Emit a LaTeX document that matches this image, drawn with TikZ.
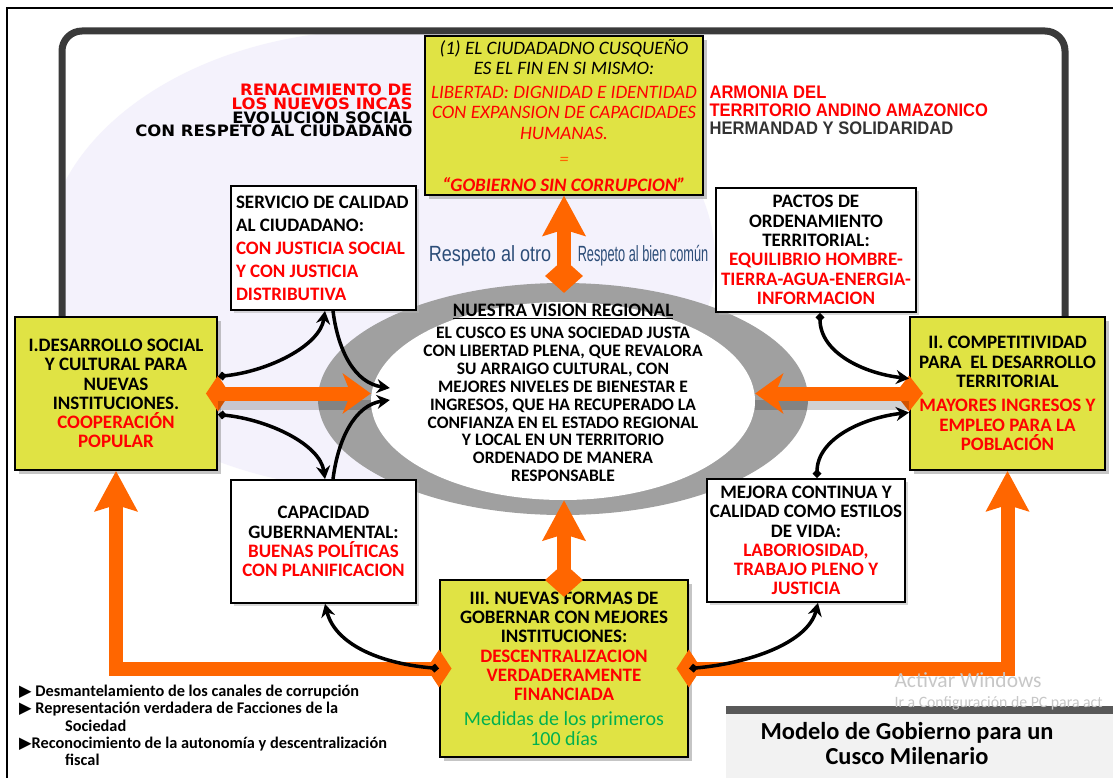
\documentclass[tikz,border=0pt]{standalone}
\usepackage{fontspec}
\setmainfont{Carlito}
\newfontfamily\blackfont[FakeStretch=1.05]{DejaVu Sans}
\newfontfamily\narrowfont[FakeStretch=0.91]{Liberation Sans}
\newfontfamily\respfont[FakeStretch=0.82]{Liberation Sans}
\newfontfamily\respnarrow[FakeStretch=0.58]{Liberation Sans}
\newfontfamily\symbfont{DejaVu Sans}
\usetikzlibrary{shapes.geometric,arrows.meta,shadows}

\definecolor{boxyellow}{RGB}{224,227,68}
\definecolor{flecha}{RGB}{255,102,0}
\definecolor{txtred}{RGB}{255,0,0}
\definecolor{txtgreen}{RGB}{0,176,80}
\definecolor{ringgray}{RGB}{160,160,160}
\definecolor{lavanda}{RGB}{244,242,252}
\definecolor{respeto}{RGB}{44,77,120}
\definecolor{marco}{RGB}{58,58,58}

\tikzset{
    ybox/.style={rectangle,draw=black,line width=1.8pt,fill=boxyellow,inner sep=3pt,align=center,
        font=\bfseries\fontsize{19}{19.3}\selectfont,
        drop shadow={shadow xshift=4pt,shadow yshift=-4pt,fill=black!45}},
    wbox/.style={rectangle,draw=black,line width=1.8pt,fill=white,inner sep=3pt,align=center,
        font=\bfseries\fontsize{19}{19.3}\selectfont,
        drop shadow={shadow xshift=3pt,shadow yshift=-3pt,fill=black!30}},
    odiamond/.style={diamond,fill=flecha,inner sep=0pt},
    oarrow/.style={draw=flecha,line width=14pt,-{Stealth[length=40pt,width=42pt,inset=6pt]}},
    harrow/.style={draw=flecha,line width=14pt,-{Stealth[length=28pt,width=40pt,inset=8pt]}},
    karrow/.style={line width=3.5pt,-{Stealth[length=13pt,width=14pt]}},
    ktail/.style={{Diamond[length=9pt,width=9pt]}-{Stealth[length=13pt,width=14pt]}},
    }

\begin{document}
\begin{tikzpicture}[x=1pt,y=-1pt]
    \useasboundingbox[fill=white] (0,0) rectangle (1113,778);

    % fondo y marcos
    \begin{scope}
        \clip (62,31) rectangle (1065,720);
        \fill[lavanda] (380,260) ellipse [x radius=335, y radius=230];
    \end{scope}
    \draw[line width=2.5pt] (7,8) rectangle (1130,800);
    \draw[marco,line width=7pt,rounded corners=20pt] (62,330) |- (1065,31) -- (1065,330);

    % titulos
    \node[anchor=east,align=right,font=\blackfont\bfseries\fontsize{15.7}{13.6}\selectfont] (renacimiento) at (416,110.5)
        {\color{txtred}RENACIMIENTO DE\\ \color{txtred}LOS NUEVOS INCAS\\ EVOLUCION SOCIAL\\ CON RESPETO AL CIUDADANO};
    \node[anchor=west,align=left,font=\narrowfont\bfseries\fontsize{18.2}{18}\selectfont] (armonia) at (706,110)
        {\color{txtred}ARMONIA DEL\\ \color{txtred}TERRITORIO ANDINO AMAZONICO\\ \color{black!80}HERMANDAD Y SOLIDARIDAD};
    \node[font=\respfont\fontsize{22}{22}\selectfont,text=respeto] (otro) at (490,256) {Respeto al otro};
    \node[font=\respnarrow\fontsize{22}{22}\selectfont,text=respeto] (biencomun) at (643,256) {Respeto al bien común};

    % vision regional
    \node[ellipse,fill=ringgray,minimum width=490pt,minimum height=232pt] (ring) at (563,399) {};
    \node[ellipse,fill=white,minimum width=384pt,minimum height=198pt] (vision) at (563,401) {};
    \node[align=center,font=\bfseries\fontsize{17.5}{17.9}\selectfont] (visiontext) at (563,393)
        {\fontsize{19}{19}\selectfont\underline{NUESTRA VISION REGIONAL}\\[4pt]
         EL CUSCO ES UNA SOCIEDAD JUSTA\\ CON LIBERTAD PLENA, QUE REVALORA\\ SU ARRAIGO CULTURAL, CON\\
         MEJORES NIVELES DE BIENESTAR E\\ INGRESOS, QUE HA RECUPERADO LA\\ CONFIANZA EN EL ESTADO REGIONAL\\
         Y LOCAL EN UN TERRITORIO\\ ORDENADO DE MANERA\\ RESPONSABLE};

    % cajas
    \node[ybox,minimum width=278pt,minimum height=155pt,font=\itshape\fontsize{19}{20.5}\selectfont] (fin) at (564,115.5)
        {(1) EL CIUDADADNO CUSQUEÑO\\ ES EL FIN EN SI MISMO:\\[3pt]
         \color{txtred}LIBERTAD: DIGNIDAD E IDENTIDAD\\ \color{txtred}CON EXPANSION DE CAPACIDADES\\ \color{txtred}HUMANAS.\\[6pt]
         \color{flecha}=\\[5pt] \color{txtred}\bfseries “GOBIERNO SIN CORRUPCION”};
    \node[ybox,minimum width=202pt,minimum height=153pt] (social) at (116,393.5)
        {I.DESARROLLO SOCIAL\\ Y CULTURAL PARA\\ NUEVAS\\ INSTITUCIONES.\\ \color{txtred}COOPERACIÓN\\ \color{txtred}POPULAR};
    \node[ybox,minimum width=195pt,minimum height=153pt] (compet) at (1007.5,393.5)
        {II. COMPETITIVIDAD\\ PARA~ EL DESARROLLO\\ TERRITORIAL\\[5pt] \color{txtred}MAYORES INGRESOS Y\\ \color{txtred}EMPLEO PARA LA\\ \color{txtred}POBLACIÓN};
    \node[ybox,minimum width=248pt,minimum height=177pt] (gobernar) at (564,668.5)
        {III. NUEVAS FORMAS DE\\ GOBERNAR CON MEJORES\\ INSTITUCIONES:\\ \color{txtred}DESCENTRALIZACION\\ \color{txtred}VERDADERAMENTE\\ \color{txtred}FINANCIADA\\[6pt]
         \color{txtgreen}\mdseries\fontsize{20}{19.3}\selectfont Medidas de los primeros\\ \color{txtgreen}\mdseries\fontsize{20}{19.3}\selectfont 100 días};
    \node[wbox,minimum width=185pt,minimum height=124pt,inner xsep=5pt,inner ysep=2pt,align=flush left,text width=175pt,font=\bfseries\fontsize{19}{23}\selectfont] (servicio) at (323.5,248)
        {SERVICIO DE CALIDAD\\ AL CIUDADANO:\\ \color{txtred}CON JUSTICIA SOCIAL\\ \color{txtred}Y CON JUSTICIA\\ \color{txtred}DISTRIBUTIVA};
    \node[wbox,minimum width=200pt,minimum height=124pt] (pactos) at (816,250)
        {PACTOS DE\\ ORDENAMIENTO\\ TERRITORIAL:\\ \color{txtred}EQUILIBRIO HOMBRE-\\ \color{txtred}TIERRA-AGUA-ENERGIA-\\ \color{txtred}INFORMACION};
    \node[wbox,minimum width=185pt,minimum height=123pt] (capacidad) at (323.5,541.5)
        {CAPACIDAD\\ GUBERNAMENTAL:\\ \color{txtred}BUENAS POLÍTICAS\\ \color{txtred}CON PLANIFICACION};
    \node[wbox,minimum width=192pt,minimum height=123pt] (mejora) at (806,540.5)
        {MEJORA CONTINUA Y\\ CALIDAD COMO ESTILOS\\ DE VIDA:\\ \color{txtred}LABORIOSIDAD,\\ \color{txtred}TRABAJO PLENO Y\\ \color{txtred}JUSTICIA};

    % rombos
    \node[odiamond,minimum width=38pt,minimum height=34pt] (dtop) at (564,276) {};
    \node[odiamond,minimum width=38pt,minimum height=34pt] (dbot) at (564,580) {};
    \node[odiamond,minimum width=24pt,minimum height=36pt] (dleft) at (social.east) {};
    \node[odiamond,minimum width=28pt,minimum height=36pt] (dright) at (compet.west) {};
    \node[odiamond,minimum width=25pt,minimum height=38pt] (dgl) at (gobernar.west) {};
    \node[odiamond,minimum width=25pt,minimum height=38pt] (dgr) at (gobernar.east) {};

    % flechas naranjas
    \draw[oarrow] (dtop.center) -- (fin.south);
    \draw[oarrow] (dbot.center) -- (dbot.center |- vision.south);
    \draw[line width=10pt,black,opacity=0.18] ([yshift=-11pt]dleft.center) -- ([yshift=-11pt]dleft.center -| vision.west);
    \draw[line width=10pt,black,opacity=0.18] ([yshift=-11pt]dright.center) -- ([yshift=-11pt]dright.center -| vision.east);
    \draw[harrow] (dleft.center) -- (dleft.center -| vision.west);
    \draw[harrow] (dright.center) -- (dright.center -| vision.east);
    \draw[oarrow] (dgl.center) -| (social.south);
    \draw[oarrow] (dgr.center) -| (compet.south);

    % flechas negras
    \draw[karrow,ktail] ([yshift=17pt]social.east) .. controls +(50,-5) and +(-5,35) .. ([xshift=1.5pt]servicio.south);
    \draw[karrow] ([xshift=9.5pt]servicio.south) .. controls +(5,40) and +(-35,-5) .. ([xshift=19pt,yshift=13pt]vision.west);
    \draw[karrow,ktail] ([yshift=-21pt]social.east) .. controls +(50,5) and +(-5,-35) .. ([xshift=1.5pt]capacidad.north);
    \draw[karrow] ([xshift=9.5pt]capacidad.north) .. controls +(5,-40) and +(-35,5) .. ([xshift=19pt,yshift=1pt]vision.west);
    \draw[karrow,ktail] ([xshift=4pt]pactos.south) .. controls +(0,40) and +(-45,-5) .. ([yshift=15pt]compet.west);
    \draw[karrow,ktail] ([xshift=11pt]mejora.north) .. controls +(0,-40) and +(-45,5) .. ([yshift=-19pt]compet.west);
    \draw[karrow,ktail] (gobernar.west) .. controls +(-60,-5) and +(10,40) .. ([xshift=1.5pt]capacidad.south);
    \draw[karrow,ktail] (gobernar.east) .. controls +(60,-5) and +(-10,40) .. ([xshift=12pt]mejora.south);

    % medidas
    \node[anchor=north west,inner sep=0pt,align=left,font=\bfseries\fontsize{16.3}{17.3}\selectfont] (medidas) at (19,685)
        {{\symbfont\mdseries ▶}\ Desmantelamiento de los canales de corrupción\\
         {\symbfont\mdseries ▶}\ Representación verdadera de Facciones de la\\
         \hspace*{46pt}Sociedad\\
         {\symbfont\mdseries ▶}Reconocimiento de la autonomía y descentralización\\
         \hspace*{46pt}fiscal};

    % modelo
    \fill[black!5] (726,714) rectangle (1113,778);
    \fill[black!65] (726,706) rectangle (1113,714);
    \node[align=center,font=\bfseries\fontsize{24.4}{25}\selectfont] (modelo) at (907,744) {Modelo de Gobierno para un\\ Cusco Milenario};
    \node[anchor=west,text=black!22,font=\fontsize{21.5}{21}\selectfont] (activar) at (891,680) {Activar Windows};
    \node[anchor=west,text=black!22,font=\fontsize{15.8}{16}\selectfont] (config) at (891,703) {Ir a Configuración de PC para act};
\end{tikzpicture}
\end{document}
